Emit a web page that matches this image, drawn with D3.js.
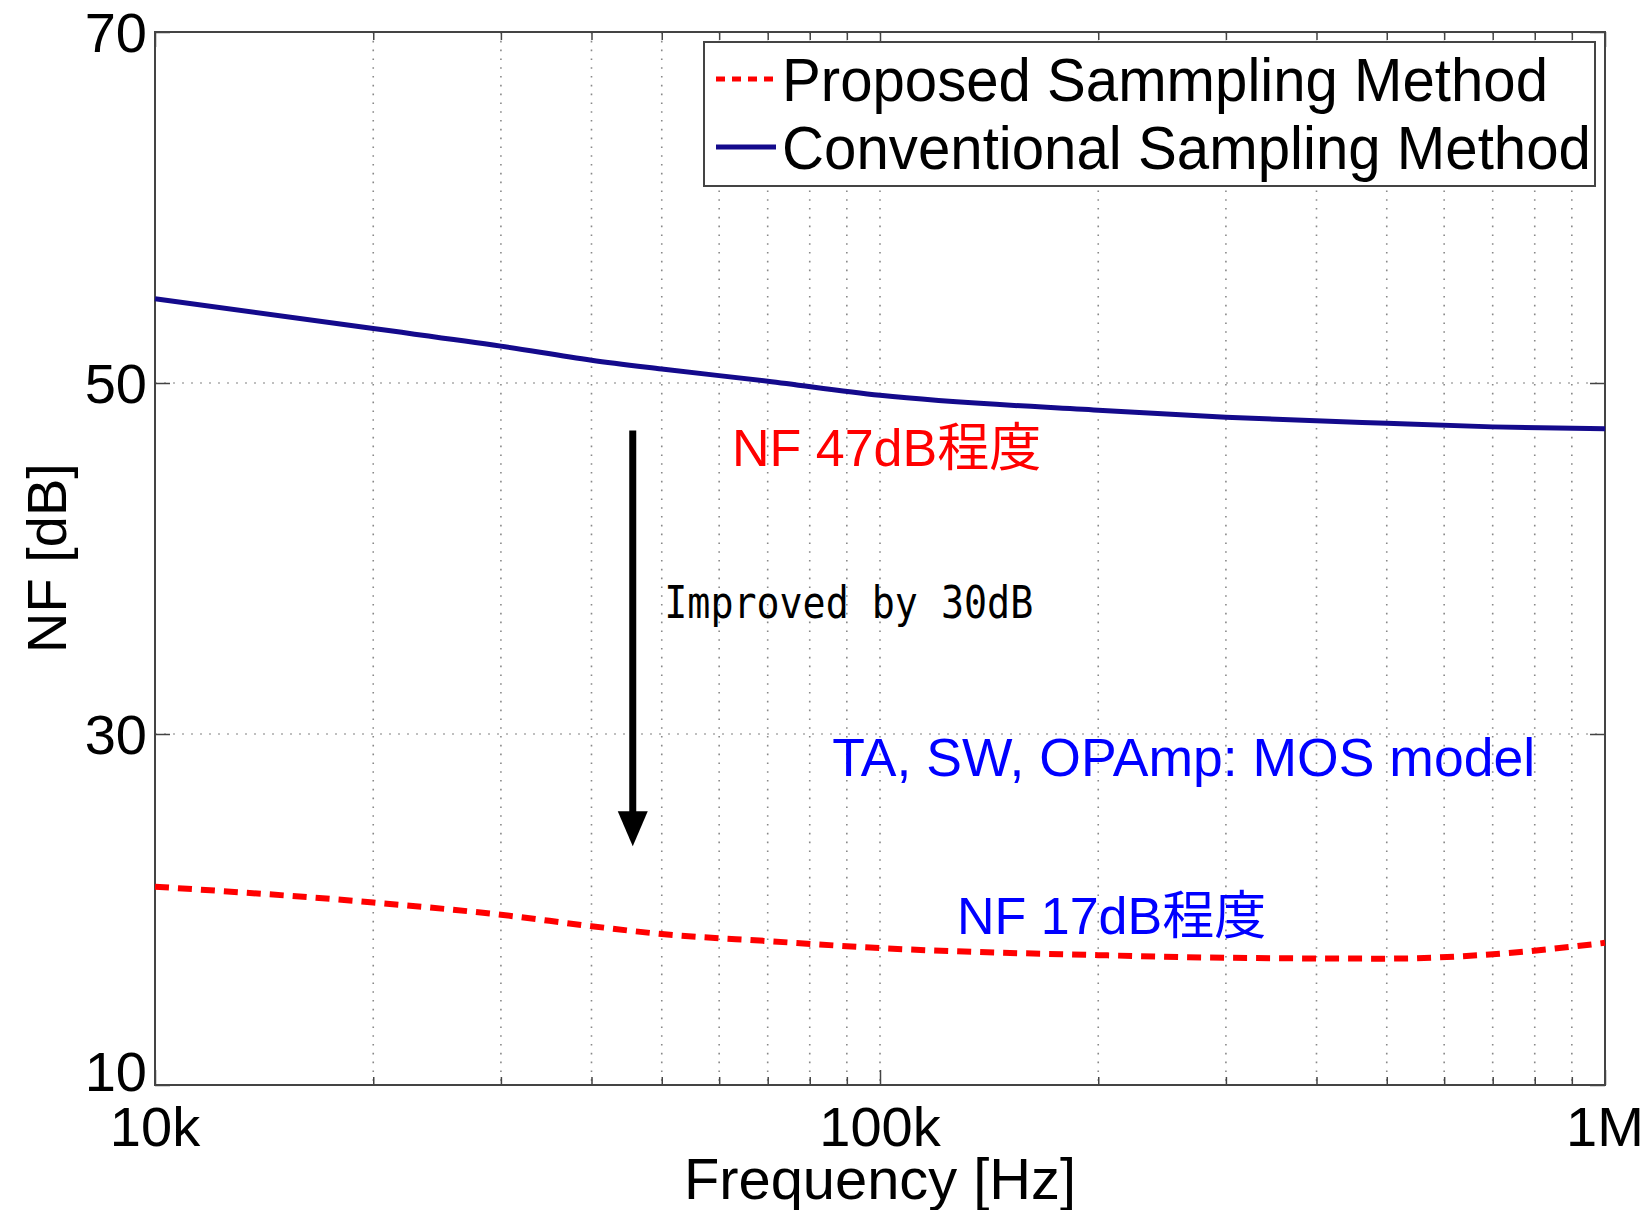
<!DOCTYPE html>
<html>
<head>
<meta charset="utf-8">
<script src="https://cdn.jsdelivr.net/npm/d3@7"></script>
<style>
  body { margin: 0; background: #fff; }
  svg text { font-family: "Liberation Sans", Arial, "Noto Sans CJK JP", sans-serif; }
</style>
</head>
<body>
<div id="chart"></div>
<script>
// frequency points [Hz]
var freqs = [1e4, 2e4, 3e4, 4e4, 5e4, 7e4, 1e5, 2e5, 3e5, 5e5, 7e5, 1e6];
// NF [dB]
var conventional = [54.8, 53.1, 52.1, 51.3, 50.8, 50.1, 49.3, 48.45, 48.05, 47.7, 47.5, 47.4];
var proposed = [21.3, 20.4, 19.7, 19.05, 18.6, 18.2, 17.8, 17.4, 17.25, 17.2, 17.45, 18.1];

var xMajor = [1e4, 1e5, 1e6];
var xMajorLabels = ["10k", "100k", "1M"];
var yTicks = [10, 30, 50, 70];
var legendLabels = ["Proposed Sammpling Method", "Conventional Sampling Method"];

var W = 1652, H = 1210;
var margin = {top: 32, right: 47, bottom: 125, left: 155};

var svg = d3.select("#chart").append("svg")
    .attr("width", W)
    .attr("height", H);

var x = d3.scaleLog().domain([1e4, 1e6]).range([margin.left, W - margin.right]);
var y = d3.scaleLinear().domain([10, 70]).range([H - margin.bottom, margin.top]);

// minor decade positions
var xMinor = [];
[1e4, 1e5].forEach(function(d) {
    for (var k = 2; k <= 9; k++) xMinor.push(d * k);
});

// grid
var grid = svg.append("g");
grid.selectAll(".vg")
    .data(xMinor.concat([1e5]))
    .enter().append("line")
    .attr("x1", function(d) { return x(d); })
    .attr("x2", function(d) { return x(d); })
    .attr("y1", y(70))
    .attr("y2", y(10))
    .style("stroke", "#888")
    .style("stroke-width", 1.6)
    .style("stroke-dasharray", "1.6,7.2");
grid.selectAll(".hg")
    .data([30, 50])
    .enter().append("line")
    .attr("x1", x(1e4))
    .attr("x2", x(1e6))
    .attr("y1", function(d) { return y(d); })
    .attr("y2", function(d) { return y(d); })
    .style("stroke", "#aaa")
    .style("stroke-width", 1.6)
    .style("stroke-dasharray", "2,7");

// axes (ticks inward)
var axisColor = "#444";
function styleAxis(g) {
    g.select(".domain").remove();
    g.selectAll("line").style("stroke", axisColor).style("stroke-width", 1.5);
    g.selectAll("text").remove();
}
svg.append("g").attr("transform", "translate(0," + y(10) + ")")
    .call(d3.axisBottom(x).tickValues(xMinor).tickSize(-8)).call(styleAxis);
svg.append("g").attr("transform", "translate(0," + y(70) + ")")
    .call(d3.axisTop(x).tickValues(xMinor).tickSize(-8)).call(styleAxis);
svg.append("g").attr("transform", "translate(0," + y(10) + ")")
    .call(d3.axisBottom(x).tickValues(xMajor).tickSize(-15)).call(styleAxis);
svg.append("g").attr("transform", "translate(0," + y(70) + ")")
    .call(d3.axisTop(x).tickValues(xMajor).tickSize(-15)).call(styleAxis);
svg.append("g").attr("transform", "translate(" + x(1e4) + ",0)")
    .call(d3.axisLeft(y).tickValues(yTicks).tickSize(-15)).call(styleAxis);
svg.append("g").attr("transform", "translate(" + x(1e6) + ",0)")
    .call(d3.axisRight(y).tickValues(yTicks).tickSize(-15)).call(styleAxis);

// frame
svg.append("rect")
    .attr("x", x(1e4)).attr("y", y(70))
    .attr("width", x(1e6) - x(1e4))
    .attr("height", y(10) - y(70))
    .style("fill", "none")
    .style("stroke", axisColor)
    .style("stroke-width", 2);

// tick labels (lowest one nudged up, as in the original)
svg.selectAll(".ylab")
    .data(yTicks)
    .enter().append("text")
    .attr("x", x(1e4) - 8)
    .attr("y", function(d) { return y(d) + (d === 10 ? 6 : 20); })
    .attr("text-anchor", "end")
    .style("font-size", "56px")
    .text(function(d) { return d; });

svg.selectAll(".xlab")
    .data(xMajor)
    .enter().append("text")
    .attr("x", function(d) { return x(d); })
    .attr("y", 1146)
    .attr("text-anchor", "middle")
    .style("font-size", "56px")
    .text(function(d, i) { return xMajorLabels[i]; });

// axis titles
svg.append("text")
    .attr("x", x(1e5))
    .attr("y", 1199)
    .attr("text-anchor", "middle")
    .attr("textLength", 392)
    .attr("lengthAdjust", "spacingAndGlyphs")
    .style("font-size", "57px")
    .text("Frequency [Hz]");

svg.append("text")
    .attr("transform", "translate(66," + 558 + ") rotate(-90)")
    .attr("text-anchor", "middle")
    .style("font-size", "56px")
    .text("NF [dB]");

// lines
var line = d3.line()
    .x(function(d) { return x(d[0]); })
    .y(function(d) { return y(d[1]); })
    .curve(d3.curveMonotoneX);

var navy = "#140a8c";
svg.append("path")
    .datum(d3.zip(freqs, conventional))
    .attr("d", line)
    .style("fill", "none")
    .style("stroke", navy)
    .style("stroke-width", 5);

svg.append("path")
    .datum(d3.zip(freqs, proposed))
    .attr("d", line)
    .style("fill", "none")
    .style("stroke", "#ff0000")
    .style("stroke-width", 6)
    .style("stroke-dasharray", "14,9");

// arrow
var arrowX = x(45.6e3);
svg.append("line")
    .attr("x1", arrowX).attr("x2", arrowX)
    .attr("y1", y(47.3)).attr("y2", y(25.5))
    .style("stroke", "#000")
    .style("stroke-width", 7);
svg.append("path")
    .attr("d", "M" + (arrowX - 15) + "," + y(25.6) + " L" + (arrowX + 15) + "," + y(25.6) +
        " L" + arrowX + "," + y(23.6) + " Z")
    .style("fill", "#000");

// annotations
svg.append("text")
    .attr("x", x(62.5e3)).attr("y", y(45.27))
    .style("font-size", "52px")
    .style("fill", "#ff0000")
    .text("NF 47dB程度");

svg.append("text")
    .attr("x", x(50.4e3)).attr("y", y(36.6))
    .attr("textLength", 369)
    .attr("lengthAdjust", "spacingAndGlyphs")
    .style("font-family", "'DejaVu Sans Mono', monospace")
    .style("font-size", "45px")
    .style("fill", "#000")
    .text("Improved by 30dB");

svg.append("text")
    .attr("x", x(85.9e3)).attr("y", y(27.6))
    .attr("textLength", 703)
    .attr("lengthAdjust", "spacingAndGlyphs")
    .style("font-size", "53px")
    .style("fill", "#0000ff")
    .text("TA, SW, OPAmp: MOS model");

svg.append("text")
    .attr("x", x(127.7e3)).attr("y", y(18.6))
    .style("font-size", "52px")
    .style("fill", "#0000ff")
    .text("NF 17dB程度");

// legend
var lg = svg.append("g");
lg.append("rect")
    .attr("x", 704).attr("y", 42)
    .attr("width", 891).attr("height", 144)
    .style("fill", "#fff")
    .style("stroke", axisColor)
    .style("stroke-width", 2);

var legendStyles = [
    {color: "#ff0000", dash: "9,7", width: 5, textLen: 766},
    {color: navy, dash: null, width: 5, textLen: 809}
];
var legendY = [79, 147];
legendLabels.forEach(function(lab, i) {
    lg.append("line")
        .attr("x1", 716).attr("x2", 776)
        .attr("y1", legendY[i]).attr("y2", legendY[i])
        .style("stroke", legendStyles[i].color)
        .style("stroke-width", legendStyles[i].width)
        .style("stroke-dasharray", legendStyles[i].dash);
    lg.append("text")
        .attr("x", 782)
        .attr("y", legendY[i] + 22)
        .attr("textLength", legendStyles[i].textLen)
        .attr("lengthAdjust", "spacingAndGlyphs")
        .style("font-size", "62px")
        .text(lab);
});
</script>
</body>
</html>
